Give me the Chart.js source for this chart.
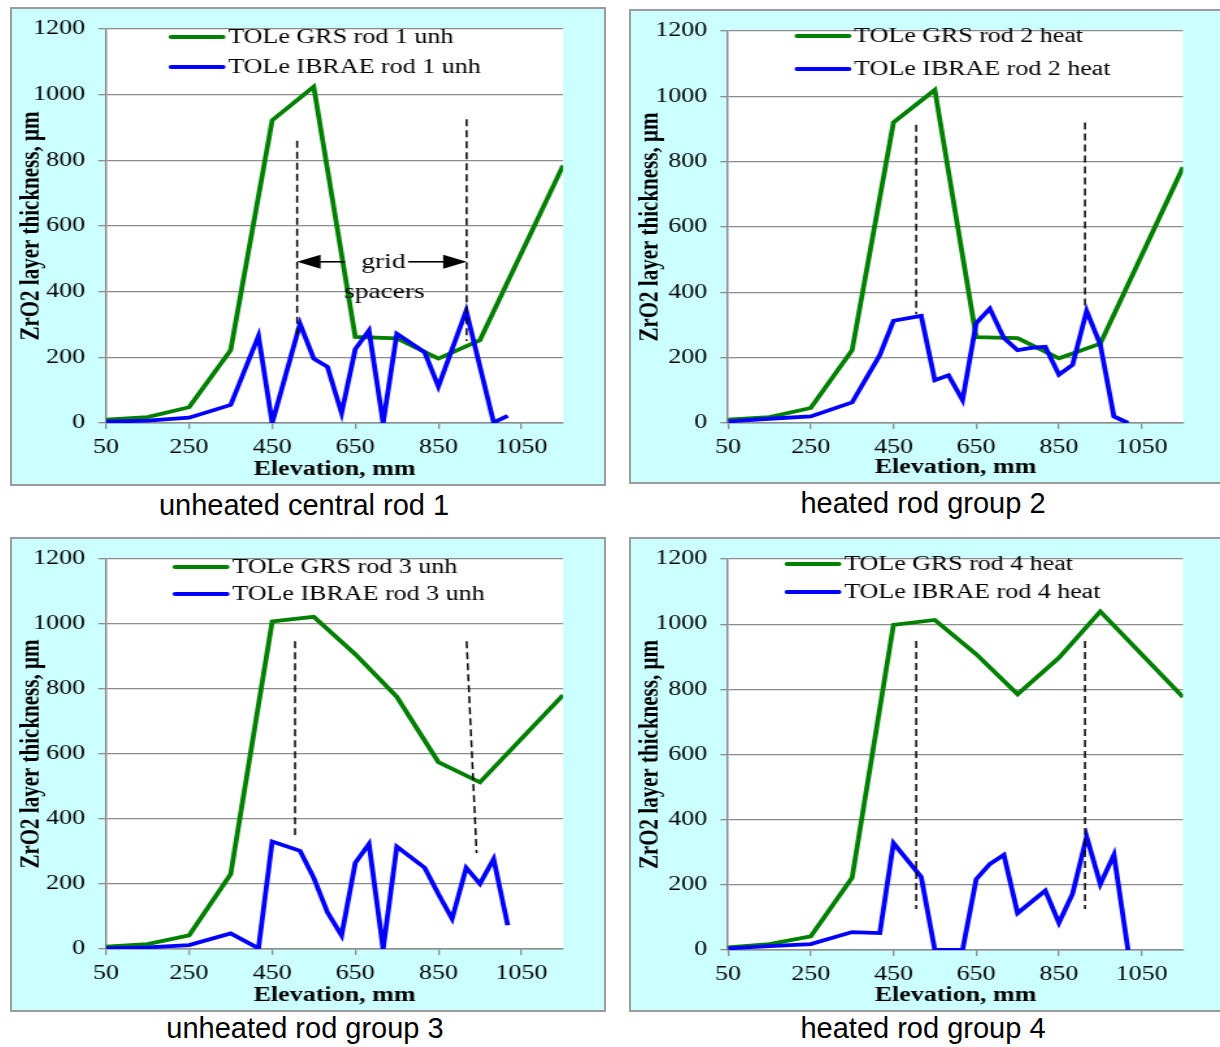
<!DOCTYPE html>
<html>
<head>
<meta charset="utf-8">
<title>ZrO2 layer thickness along the rods</title>
<script src="https://cdn.jsdelivr.net/npm/chart.js@4.4.0/dist/chart.umd.min.js"></script>
<style>
body { margin: 0; width: 1220px; height: 1047px; overflow: hidden; background: #fff; position: relative; }
.frame { position: absolute; box-sizing: border-box; border: 2px solid #9c9c9c; background: #ccffff; }
.stretch { position: absolute; transform-origin: 0 0; }
.caption { position: absolute; width: 420px; text-align: center; white-space: nowrap; color: #000;
           font-family: 'Liberation Sans', Arial, sans-serif; font-size: 29px; line-height: 29px; }
</style>
</head>
<body>
<script>
// axis ticks
var elevTicks = [50, 250, 450, 650, 850, 1050];
var thickTicks = [0, 200, 400, 600, 800, 1000, 1200];

// GRS values are given at the same elevations for all rods
var grsElev = [50, 150, 250, 350, 450, 550, 650, 750, 850, 950, 1150];

// rod 1 (unheated central)
var grsRod1 = [10, 18, 48, 222, 922, 1024, 262, 258, 196, 252, 784];
var ibraeElev1 = [50, 150, 250, 350, 417, 450, 517, 550, 583, 617, 650, 683, 717, 750, 817, 850, 917, 983, 1017];
var ibraeRod1 = [4, 7, 16, 55, 265, 0, 302, 196, 171, 30, 225, 282, 0, 272, 215, 111, 342, 2, 22];

// rod 2 (heated)
var grsRod2 = [10, 18, 46, 223, 920, 1020, 263, 260, 198, 243, 783];
var ibraeElev2 = [50, 150, 250, 350, 417, 450, 517, 550, 583, 617, 650, 683, 717, 750, 783, 817, 850, 883, 917, 950, 983, 1017];
var ibraeRod2 = [5, 13, 20, 63, 208, 313, 328, 131, 146, 70, 306, 350, 260, 223, 230, 233, 148, 178, 343, 240, 20, 0];

// rod 3 (unheated)
var grsRod3 = [7, 15, 42, 230, 1008, 1022, 907, 776, 575, 513, 781];
var ibraeElev3 = [50, 150, 250, 350, 417, 450, 517, 550, 583, 617, 650, 683, 717, 750, 817, 850, 883, 917, 950, 983, 1017];
var ibraeRod3 = [2, 5, 12, 48, 2, 331, 302, 219, 113, 42, 265, 323, 0, 315, 250, 169, 93, 250, 201, 277, 73];

// rod 4 (heated)
var grsRod4 = [8, 18, 42, 222, 998, 1013, 908, 785, 897, 1039, 776];
var ibraeElev4 = [50, 150, 250, 350, 417, 450, 517, 550, 617, 650, 683, 717, 750, 817, 850, 883, 917, 950, 983, 1017];
var ibraeRod4 = [5, 12, 18, 55, 52, 328, 224, 0, 0, 217, 264, 292, 113, 182, 83, 173, 348, 202, 292, 0];

// grid spacer marks: [elev top, thickness top, elev bottom, thickness bottom]
var spacers1 = [[510, 860, 510, 255], [918, 925, 918, 250]];
var spacers2 = [[505, 913, 505, 333], [913, 920, 913, 348]];
var spacers3 = [[505, 947, 505, 351], [918, 947, 942, 295]];
var spacers4 = [[505, 948, 505, 126], [913, 948, 913, 126]];

// "grid spacers" note on rod 1
var arrowFrom = [625, 777];
var arrowTo = [510, 918];
var arrowLevel = 491;
var noteText = ['grid', 'spacers'];
var noteElev = [718, 720];
var noteLevel = [488, 399];

var STRETCH = 1.3;

// page layout of the four panels (page pixels)
var panels = [
    {box: [10, 7, 596, 479], area: [106, 20, 563, 423], legend: [171, 37, 67], capX: 304, capY: 515,
     caption: 'unheated central rod 1', names: ['TOLe GRS rod 1 unh', 'TOLe IBRAE rod 1 unh'],
     grs: grsRod1, ibraeElev: ibraeElev1, ibrae: ibraeRod1, spacers: spacers1, note: true},
    {box: [629, 9, 600, 475], area: [728, 22, 1183, 423], legend: [797, 36, 69], capX: 923, capY: 513,
     caption: 'heated rod group 2', names: ['TOLe GRS rod 2 heat', 'TOLe IBRAE rod 2 heat'],
     grs: grsRod2, ibraeElev: ibraeElev2, ibrae: ibraeRod2, spacers: spacers2, note: false},
    {box: [10, 537, 596, 475], area: [106, 550, 563, 949], legend: [175, 567, 594], capX: 305, capY: 1038,
     caption: 'unheated rod group 3', names: ['TOLe GRS rod 3 unh', 'TOLe IBRAE rod 3 unh'],
     grs: grsRod3, ibraeElev: ibraeElev3, ibrae: ibraeRod3, spacers: spacers3, note: false},
    {box: [629, 537, 600, 475], area: [728, 550, 1183, 950], legend: [787, 564, 592], capX: 923, capY: 1038,
     caption: 'heated rod group 4', names: ['TOLe GRS rod 4 heat', 'TOLe IBRAE rod 4 heat'],
     grs: grsRod4, ibraeElev: ibraeElev4, ibrae: ibraeRod4, spacers: spacers4, note: false}
];

var serif = "'Liberation Serif', 'Times New Roman', serif";

function toPoints(xs, ys) {
    return xs.map(function (x, i) { return {x: x, y: ys[i]}; });
}

// white plot area
var plotBg = {
    id: 'plotBg',
    beforeDraw: function (chart) {
        var a = chart.chartArea;
        chart.ctx.save();
        chart.ctx.fillStyle = '#fff';
        chart.ctx.fillRect(a.left, a.top, a.right - a.left, a.bottom - a.top);
        chart.ctx.restore();
    }
};

// legend drawn inside the plot area
var insideLegend = {
    id: 'insideLegend',
    afterDraw: function (chart, args, opts) {
        var ctx = chart.ctx;
        ctx.save();
        ctx.font = '20px ' + serif;
        ctx.textBaseline = 'middle';
        ctx.fillStyle = '#000';
        ctx.lineCap = 'round';
        for (var i = 0; i < 2; i++) {
            var ds = chart.data.datasets[i];
            var y = opts.rows[i];
            ctx.strokeStyle = ds.borderColor;
            ctx.lineWidth = 3.8;
            ctx.beginPath();
            ctx.moveTo(opts.x, y);
            ctx.lineTo(opts.x + 40, y);
            ctx.stroke();
            ctx.fillText(ds.label, opts.x + 44, y + 1);
        }
        ctx.restore();
    }
};

// arrows and text for the grid spacers
var spacerNote = {
    id: 'spacerNote',
    afterDatasetsDraw: function (chart, args, opts) {
        if (!opts.show) return;
        var ctx = chart.ctx;
        var xs = chart.scales.x, ys = chart.scales.y;
        var py = ys.getPixelForValue(arrowLevel);
        ctx.save();
        ctx.strokeStyle = '#000';
        ctx.fillStyle = '#000';
        ctx.lineWidth = 1.6;
        for (var i = 0; i < arrowFrom.length; i++) {
            var x0 = xs.getPixelForValue(arrowFrom[i]);
            var x1 = xs.getPixelForValue(arrowTo[i]);
            var dir = x1 > x0 ? 1 : -1;
            ctx.beginPath();
            ctx.moveTo(x0, py);
            ctx.lineTo(x1 - dir * 17, py);
            ctx.stroke();
            ctx.beginPath();
            ctx.moveTo(x1, py);
            ctx.lineTo(x1 - dir * 18, py - 7);
            ctx.lineTo(x1 - dir * 18, py + 7);
            ctx.closePath();
            ctx.fill();
        }
        ctx.font = '21px ' + serif;
        ctx.textAlign = 'center';
        ctx.textBaseline = 'middle';
        for (var j = 0; j < noteText.length; j++) {
            ctx.fillText(noteText[j], xs.getPixelForValue(noteElev[j]), ys.getPixelForValue(noteLevel[j]));
        }
        ctx.restore();
    }
};

function makePanel(p) {
    var bx = p.box[0], by = p.box[1], bw = p.box[2], bh = p.box[3];
    var cw = Math.round(bw / STRETCH);
    var s = bw / cw;

    var frame = document.createElement('div');
    frame.className = 'frame';
    frame.style.left = bx + 'px';
    frame.style.top = by + 'px';
    frame.style.width = bw + 'px';
    frame.style.height = bh + 'px';
    document.body.appendChild(frame);

    var wrap = document.createElement('div');
    wrap.className = 'stretch';
    wrap.style.left = bx + 'px';
    wrap.style.top = by + 'px';
    wrap.style.width = cw + 'px';
    wrap.style.height = bh + 'px';
    wrap.style.transform = 'scaleX(' + s + ')';
    var canvas = document.createElement('canvas');
    canvas.width = cw;
    canvas.height = bh;
    canvas.style.width = cw + 'px';
    canvas.style.height = bh + 'px';
    wrap.appendChild(canvas);
    document.body.appendChild(wrap);

    var cap = document.createElement('div');
    cap.className = 'caption';
    cap.textContent = p.caption;
    cap.style.left = (p.capX - 210) + 'px';
    cap.style.top = (p.capY - 24.5) + 'px';
    document.body.appendChild(cap);

    // plot area in canvas units
    var yWidth = (p.area[0] - bx) / s;
    var padRight = cw - (p.area[2] - bx) / s;
    var padTop = p.area[1] - by;
    var xHeight = bh - (p.area[3] - by);

    var datasets = [
        {label: p.names[0], data: toPoints(grsElev, p.grs), borderColor: '#008000', borderWidth: 3.8,
         pointRadius: 0, tension: 0, order: 1},
        {label: p.names[1], data: toPoints(p.ibraeElev, p.ibrae), borderColor: '#0000ff', borderWidth: 3.8,
         pointRadius: 0, tension: 0, order: 0}
    ];
    p.spacers.forEach(function (sp) {
        datasets.push({label: '', data: [{x: sp[0], y: sp[1]}, {x: sp[2], y: sp[3]}], borderColor: '#000',
            borderWidth: 1.5, borderDash: [7, 4], pointRadius: 0, order: -1});
    });

    var tickFont = {family: serif, size: 20};

    new Chart(canvas, {
        type: 'line',
        data: {datasets: datasets},
        options: {
            responsive: false,
            animation: false,
            events: [],
            layout: {padding: {top: padTop, right: padRight, left: 0, bottom: 0}},
            plugins: {
                legend: {display: false},
                tooltip: {enabled: false},
                insideLegend: {x: (p.legend[0] - bx) / s, rows: [p.legend[1] - by, p.legend[2] - by]},
                spacerNote: {show: p.note}
            },
            scales: {
                x: {
                    type: 'linear', min: 50, max: 1150,
                    afterBuildTicks: function (axis) { axis.ticks = elevTicks.map(function (v) { return {value: v}; }); },
                    afterFit: function (axis) { axis.height = xHeight; },
                    grid: {drawOnChartArea: false, drawTicks: true, tickLength: 6, color: '#8c8c8c', lineWidth: 1.3},
                    border: {color: '#8c8c8c', width: 1.5},
                    ticks: {font: tickFont, color: '#000', padding: 7, maxRotation: 0, autoSkip: false,
                            callback: function (v) { return String(v); }},
                    title: {display: true, text: 'Elevation, mm', color: '#000',
                            font: {family: serif, size: 20, weight: 'bold'}, padding: {top: 0, bottom: 4}}
                },
                y: {
                    min: 0, max: 1200,
                    afterBuildTicks: function (axis) { axis.ticks = thickTicks.map(function (v) { return {value: v}; }); },
                    afterFit: function (axis) { axis.width = yWidth; },
                    grid: {color: '#8c8c8c', lineWidth: 1.3, tickLength: 6},
                    border: {color: '#8c8c8c', width: 1.5},
                    ticks: {font: tickFont, color: '#000', padding: 10, callback: function (v) { return String(v); }},
                    title: {display: true, text: 'ZrO2 layer thickness, µm', color: '#000',
                            font: {family: serif, size: 21, weight: 'bold'}, padding: {top: 4, bottom: 0}}
                }
            }
        },
        plugins: [plotBg, insideLegend, spacerNote]
    });
}

panels.forEach(makePanel);
</script>
</body>
</html>
